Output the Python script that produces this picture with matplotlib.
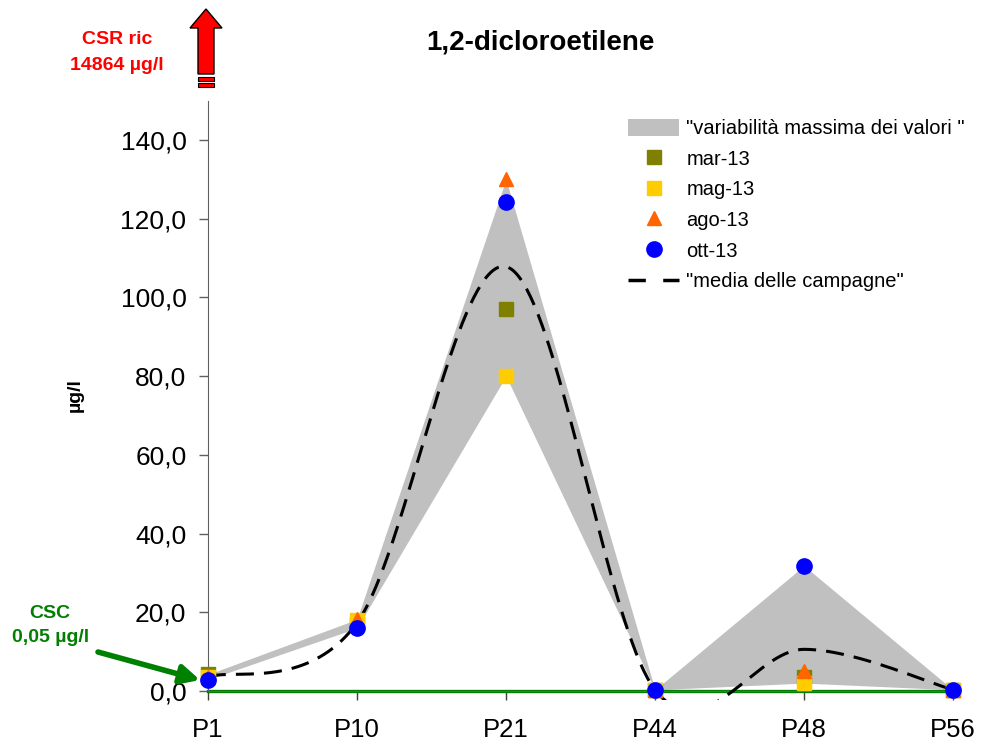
import numpy as np
import matplotlib.pyplot as plt
from matplotlib.patches import Polygon, Patch
from matplotlib.lines import Line2D

plt.rcParams['font.family'] = ['Liberation Sans', 'DejaVu Sans']

# dati
punti = ['P1', 'P10', 'P21', 'P44', 'P48', 'P56']
mar13 = [4.2, 17.0, 97.0, 0.3, 3.5, 0.3]
mag13 = [3.5, 18.0, 80.0, 0.3, 2.0, 0.3]
ago13 = [3.6, 18.2, 130.0, 0.3, 5.0, 0.3]
ott13 = [2.9, 16.0, 124.2, 0.3, 31.8, 0.3]
csc = 0.05
yticks = [0, 20, 40, 60, 80, 100, 120, 140]

tutti = np.array([mar13, mag13, ago13, ott13])
vmin = tutti.min(axis=0)
vmax = tutti.max(axis=0)
media = tutti.mean(axis=0)
x = np.arange(len(punti))


def smooth(xs, ys, n=80):
    # curva levigata tipo Excel (bezier con tangenti catmull-rom)
    xs = np.asarray(xs, float)
    ys = np.asarray(ys, float)
    px = np.concatenate([[xs[0]], xs, [xs[-1]]])
    py = np.concatenate([[ys[0]], ys, [ys[-1]]])
    ox, oy = [], []
    t = np.linspace(0, 1, n)
    for i in range(len(xs) - 1):
        p0 = np.array([px[i], py[i]])
        p1 = np.array([px[i + 1], py[i + 1]])
        p2 = np.array([px[i + 2], py[i + 2]])
        p3 = np.array([px[i + 3], py[i + 3]])
        c1 = p1 + (p2 - p0) / 6
        c2 = p2 - (p3 - p1) / 6
        b = ((1 - t) ** 3)[:, None] * p1 + (3 * (1 - t) ** 2 * t)[:, None] * c1 \
            + (3 * (1 - t) * t ** 2)[:, None] * c2 + (t ** 3)[:, None] * p2
        ox.extend(b[:, 0])
        oy.extend(b[:, 1])
    return np.array(ox), np.array(oy)


fig = plt.figure(figsize=(9.81, 7.44), dpi=100)
ax = fig.add_axes([208 / 981, 44 / 744, 745 / 981, 599.4 / 744])

ax.fill_between(x, vmin, vmax, color='#c0c0c0', lw=0, zorder=1)
ax.axhline(csc, color='#008000', lw=2.4, zorder=2, clip_on=False)
sx, sy = smooth(x, media)
ax.plot(sx, sy, color='k', lw=2.2, dashes=(5.9, 3.3), zorder=3)

ax.plot(x, mar13, 's', color='#808000', ms=9.5, zorder=4, clip_on=False)
ax.plot(x, mag13, 's', color='#ffcc00', ms=9.5, zorder=5, clip_on=False)
ax.plot(x, ago13, '^', color='#ff6600', ms=10, zorder=6, clip_on=False)
ax.plot(x, ott13, 'o', color='#0000ff', ms=11, zorder=7, clip_on=False)

for s in ['top', 'right']:
    ax.spines[s].set_visible(False)
ax.spines['bottom'].set_position(('data', 0))
ax.spines['left'].set_bounds(0, 150)
ax.spines['left'].set_color('#606060')
ax.spines['bottom'].set_color('#606060')

ax.set_xlim(0, 5)
ax.set_ylim(-2.3, 150)
ax.set_xticks(x)
ax.set_xticklabels(punti, fontsize=18.5)
ax.set_yticks(yticks)
ax.set_yticklabels([f'{v:.1f}'.replace('.', ',') for v in yticks], fontsize=19)
ax.tick_params(axis='y', length=6.5, width=1, color='#606060', pad=9)
ax.tick_params(axis='x', length=6.5, width=1, color='#404040', pad=13)

handles = [
    Patch(color='#c0c0c0', lw=0),
    Line2D([], [], ls='none', marker='s', color='#808000', ms=9.5),
    Line2D([], [], ls='none', marker='s', color='#ffcc00', ms=9.5),
    Line2D([], [], ls='none', marker='^', color='#ff6600', ms=10),
    Line2D([], [], ls='none', marker='o', color='#0000ff', ms=11),
    Line2D([], [], color='k', lw=2.5, dashes=(5, 5)),
]
labels = ['"variabilità massima dei valori "', 'mar-13', 'mag-13', 'ago-13', 'ott-13',
          '"media delle campagne"']
fig.legend(handles, labels, loc='upper left', bbox_to_anchor=(628 / 981, 1 - 119 / 744),
           frameon=False, fontsize=14.5, handlelength=2.55, handleheight=0.9,
           handletextpad=0.35, labelspacing=0.56, borderpad=0, borderaxespad=0)

fig.text(540 / 981, 1 - 42 / 744, '1,2-dicloroetilene', ha='center', va='center',
         fontsize=20, fontweight='bold')
fig.text(75 / 981, 1 - 395 / 744, 'µg/l', rotation=90, ha='center', va='center',
         fontsize=14, fontweight='bold')

# decorazioni in pixel
ov = fig.add_axes([0, 0, 1, 1], facecolor='none')
ov.set_xlim(0, 981)
ov.set_ylim(744, 0)
ov.axis('off')

ov.text(117, 40, 'CSR ric', color='#ff0000', fontsize=14, fontweight='bold', ha='center', va='center')
ov.text(117, 66, '14864 µg/l', color='#ff0000', fontsize=14, fontweight='bold', ha='center', va='center')
freccia = [(198, 74), (198, 28), (190, 28), (206, 9), (222, 28), (214, 28), (214, 74)]
ov.add_patch(Polygon(freccia, closed=True, fc='#ff0000', ec='k', lw=1))
ov.add_patch(Polygon([(198, 77), (214, 77), (214, 80.5), (198, 80.5)], fc='#ff0000', ec='k', lw=0.8))
ov.add_patch(Polygon([(198, 83), (214, 83), (214, 86.5), (198, 86.5)], fc='#ff0000', ec='k', lw=0.8))

ov.text(50, 613, 'CSC', color='#008000', fontsize=14, fontweight='bold', ha='center', va='center')
ov.text(51, 638, '0,05 µg/l', color='#008000', fontsize=14, fontweight='bold', ha='center', va='center')
ov.annotate('', xy=(200, 680), xytext=(98, 652),
            arrowprops=dict(arrowstyle='-|>', lw=4, color='#008000', mutation_scale=28,
                            shrinkA=0, shrinkB=0))

fig.savefig('out.png', dpi=100)
plt.close()
